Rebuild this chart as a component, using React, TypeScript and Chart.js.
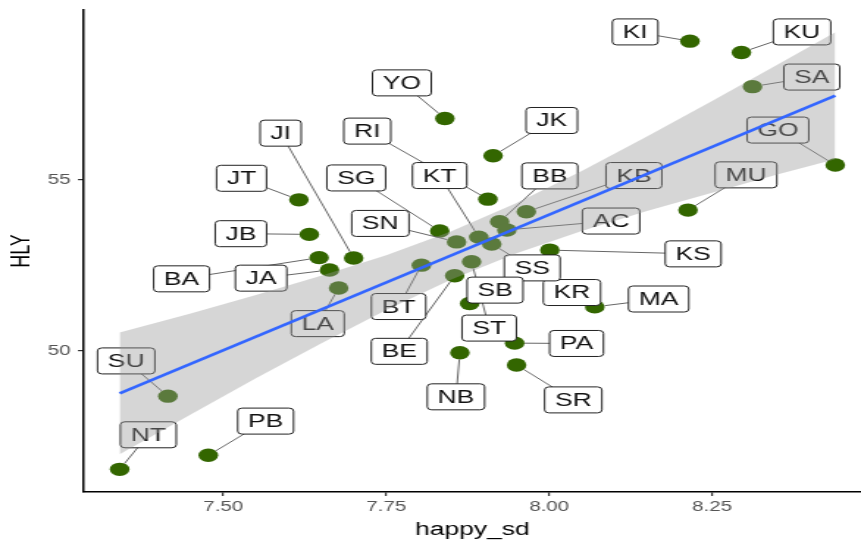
import React, { useEffect, useRef } from "react";
import { Chart, registerables } from "chart.js";

Chart.register(...registerables);

const FONT = '"Liberation Sans", Arial, Helvetica, sans-serif';

// Country / region codes
const codes = ["KI","KU","SA","GO","MU","YO","JK","KT","BB","KB","AC","SG","SN","RI","KR","SS","BT","BE","SB","KS","MA","PA","SR","NB","JT","JB","JI","BA","JA","LA","SU","NT","PB","ST"];
// x: happy_sd
const happySd = [8.216,8.295,8.312,8.439,8.213,7.840,7.914,7.892,7.924,7.965,7.935,7.832,7.858,7.906,7.912,7.955,7.804,7.855,7.878,8.001,8.070,7.947,7.950,7.863,7.616,7.632,7.700,7.647,7.663,7.677,7.415,7.341,7.477,7.881];
// y: HLY
const hly = [59.06,58.73,57.73,55.44,54.12,56.80,55.71,53.33,53.78,54.07,53.54,53.51,53.19,54.44,53.13,52.51,52.51,52.20,51.39,52.95,51.29,50.23,49.59,49.95,54.42,53.41,52.72,52.73,52.37,51.84,48.68,46.54,46.95,52.61];
// repelled label anchor positions (data units)
const labelX = [8.132,8.388,8.403,8.351,8.302,7.774,8.004,7.832,8.001,8.130,8.095,7.704,7.741,7.721,8.035,7.974,7.769,7.770,7.917,8.221,8.168,8.042,8.037,7.857,7.528,7.527,7.588,7.436,7.558,7.645,7.351,7.385,7.565,7.908];
const labelY = [59.33,59.33,58.01,56.46,55.15,57.84,56.74,55.13,55.12,55.13,53.80,55.06,53.73,56.43,51.71,52.43,51.30,49.99,51.78,52.84,51.52,50.22,48.57,48.66,55.05,53.43,56.37,52.11,52.13,50.80,49.71,47.55,47.95,50.67];

// linear fit and its confidence band
const fitX = [7.341, 8.439];
const fitY = [48.76, 57.47];
const bandX = [7.341,7.45,7.55,7.65,7.75,7.85,7.95,8.05,8.15,8.25,8.35,8.439];
const bandUpper = [50.54,51.10,51.64,52.20,52.80,53.50,54.33,55.26,56.27,57.31,58.37,59.32];
const bandLower = [46.98,48.14,49.20,50.22,51.20,52.09,52.86,53.51,54.09,54.63,55.16,55.61];

const xTicks = [7.5, 7.75, 8.0, 8.25];
const yTicks = [50, 55];
const xRange = [7.2859, 8.4785];
const yRange = [45.877, 59.971];

export default function App() {
  const ref = useRef<HTMLCanvasElement>(null);

  useEffect(() => {
    const canvas = ref.current;
    if (!canvas) return;

    const labelPlugin = {
      id: "repelLabels",
      afterDatasetDraw(chart: any, args: any) {
        if (args.index !== 3) return;
        const ctx = chart.ctx as CanvasRenderingContext2D;
        const xs = chart.scales.x;
        const ys = chart.scales.y;
        const boxH = 26;
        const padX = 7;
        const r = 6.7;
        ctx.save();
        ctx.font = `18px ${FONT}`;
        const boxes = codes.map((c, i) => ({
          c,
          cx: xs.getPixelForValue(labelX[i]),
          cy: ys.getPixelForValue(labelY[i]),
          w: ctx.measureText(c).width + 2 * padX,
          px: xs.getPixelForValue(happySd[i]),
          py: ys.getPixelForValue(hly[i]),
        }));
        ctx.strokeStyle = "#666";
        ctx.lineWidth = 1;
        boxes.forEach((b) => {
          if (Math.abs(b.px - b.cx) < b.w / 2 && Math.abs(b.py - b.cy) < boxH / 2) return;
          const dx = b.cx - b.px;
          const dy = b.cy - b.py;
          const d = Math.hypot(dx, dy);
          ctx.beginPath();
          ctx.moveTo(b.px + (dx / d) * r, b.py + (dy / d) * r);
          ctx.lineTo(b.cx, b.cy);
          ctx.stroke();
        });
        boxes.forEach((b) => {
          ctx.beginPath();
          (ctx as any).roundRect(b.cx - b.w / 2, b.cy - boxH / 2, b.w, boxH, 3);
          ctx.fillStyle = "#fff";
          ctx.fill();
          ctx.strokeStyle = "#222";
          ctx.lineWidth = 1;
          ctx.stroke();
          ctx.fillStyle = "#111";
          ctx.textAlign = "center";
          ctx.textBaseline = "middle";
          ctx.fillText(b.c, b.cx, b.cy + 1);
        });
        ctx.restore();
      },
    };

    const chart = new Chart(canvas, {
      type: "scatter",
      data: {
        datasets: [
          {
            type: "line",
            data: fitX.map((x, i) => ({ x, y: fitY[i] })),
            borderColor: "#3366FF",
            borderWidth: 2.6,
            pointRadius: 0,
            fill: false,
          } as any,
          {
            type: "line",
            data: bandX.map((x, i) => ({ x, y: bandUpper[i] })),
            borderColor: "rgba(0,0,0,0)",
            borderWidth: 0,
            pointRadius: 0,
            fill: "+1",
            backgroundColor: "rgba(153,153,153,0.4)",
          } as any,
          {
            type: "line",
            data: bandX.map((x, i) => ({ x, y: bandLower[i] })),
            borderColor: "rgba(0,0,0,0)",
            borderWidth: 0,
            pointRadius: 0,
            fill: false,
          } as any,
          {
            type: "scatter",
            data: codes.map((_, i) => ({ x: happySd[i], y: hly[i] })),
            pointRadius: 6.7,
            backgroundColor: "#336600",
            borderColor: "rgba(0,0,0,0)",
            borderWidth: 0,
          } as any,
        ],
      },
      options: {
        animation: false,
        responsive: false,
        devicePixelRatio: 1,
        events: [],
        layout: { autoPadding: false, padding: { top: 10, right: 0, left: 0, bottom: 0 } },
        plugins: { legend: { display: false }, tooltip: { enabled: false } },
        scales: {
          x: {
            type: "linear",
            min: xRange[0],
            max: xRange[1],
            afterBuildTicks: (s: any) => {
              s.ticks = xTicks.map((v) => ({ value: v }));
            },
            afterFit: (s: any) => {
              s.height = 51;
              s.paddingLeft = 0;
              s.paddingRight = 0;
              s.paddingTop = 0;
              s.paddingBottom = 0;
            },
            ticks: {
              callback: (v: any) => Number(v).toFixed(2),
              color: "#555",
              font: { family: FONT, size: 14 },
              padding: 3,
              maxRotation: 0,
              autoSkip: false,
            },
            grid: { display: true, drawOnChartArea: false, drawTicks: true, tickLength: 4, color: "#333", lineWidth: 1.2 },
            border: { display: true, color: "#000", width: 1.5 },
            title: { display: true, text: "happy_sd", color: "#000", font: { family: FONT, size: 18 }, padding: { top: 0, bottom: 2 } },
          },
          y: {
            type: "linear",
            min: yRange[0],
            max: yRange[1],
            afterBuildTicks: (s: any) => {
              s.ticks = yTicks.map((v) => ({ value: v }));
            },
            afterFit: (s: any) => {
              s.width = 57;
              s.paddingLeft = 0;
              s.paddingRight = 0;
              s.paddingTop = 0;
              s.paddingBottom = 0;
            },
            ticks: {
              callback: (v: any) => String(v),
              color: "#555",
              font: { family: FONT, size: 14 },
              padding: 5,
              autoSkip: false,
            },
            grid: { display: true, drawOnChartArea: false, drawTicks: true, tickLength: 4, color: "#333", lineWidth: 1.2 },
            border: { display: true, color: "#000", width: 1.5 },
            title: { display: true, text: "HLY", color: "#000", font: { family: FONT, size: 18 }, padding: { top: 4, bottom: 0 } },
          },
        },
      } as any,
      plugins: [labelPlugin],
    });

    return () => chart.destroy();
  }, []);

  return (
    <div style={{ position: "absolute", left: 0, top: 0, width: 861, height: 543, background: "#fff" }}>
      <canvas ref={ref} width={586} height={543} style={{ width: "861px", height: "543px", display: "block" }} />
    </div>
  );
}
